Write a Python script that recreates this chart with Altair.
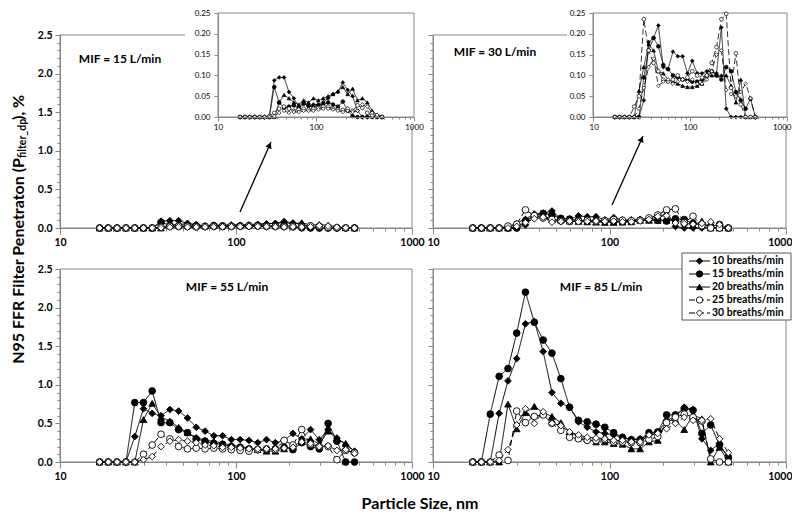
import altair as alt
import pandas as pd

FONT = "Lato"
GRAY = "#868686"
W, H = 784, 504

series = ["10 breaths/min", "15 breaths/min", "20 breaths/min", "25 breaths/min", "30 breaths/min"]
shapes = ["diamond", "circle", "triangle-up", "circle", "diamond"]
fills = ["black", "black", "black", "white", "white"]
dashes = [[1, 0], [1, 0], [1, 0], [6, 3], [6, 3]]

sizes_nm = [16.8, 18.8, 21.1, 23.7, 26.6, 29.8, 33.4, 37.5, 42.1, 47.2, 53.0, 59.4, 66.7, 74.8, 83.9,
            94.1, 105.6, 118.5, 132.9, 149.1, 167.3, 187.7, 210.6, 236.3, 265.1, 297.4, 333.7, 374.4, 420.1, 471.4]

# MIF = 15 L/min
mif15_10 = [0, 0, 0, 0, 0, 0, 0, 0.088, 0.095, 0.095, 0.060, 0.045, 0.025, 0.035, 0.025, 0.030, 0.030, 0.035,
            0.045, 0.055, 0.060, 0.083, 0.065, 0.050, 0.015, 0, 0, 0, 0, 0]
mif15_15 = [0, 0, 0, 0, 0, 0, 0, 0.072, 0.035, 0.022, 0.025, 0.028, 0.020, 0.032, 0.028, 0.025, 0.028, 0.030,
            0.035, 0.030, 0.025, 0.037, 0.015, 0.002, 0, 0, 0, 0, 0, 0]
mif15_20 = [0, 0, 0, 0, 0, 0, 0, 0.0, 0.035, 0.053, 0.045, 0.035, 0.030, 0.040, 0.035, 0.045, 0.040, 0.045,
            0.050, 0.055, 0.062, 0.072, 0.055, 0.068, 0.040, 0.045, 0.035, 0.015, 0.005, 0]
mif15_25 = [0, 0, 0, 0, 0, 0, 0.002, 0.010, 0.020, 0.025, 0.020, 0.015, 0.018, 0.020, 0.018, 0.020, 0.022, 0.025,
            0.025, 0.020, 0.018, 0.017, 0.020, 0.015, 0.028, 0.022, 0.010, 0.004, 0.002, 0]
mif15_30 = [0, 0, 0, 0, 0, 0, 0, 0.002, 0.010, 0.015, 0.010, 0.012, 0.012, 0.015, 0.015, 0.015, 0.018, 0.020,
            0.020, 0.018, 0.015, 0.012, 0.015, 0.012, 0.015, 0.030, 0.025, 0.010, 0.005, 0]

# MIF = 30 L/min
mif30_10 = [0, 0, 0, 0, 0, 0, 0.040, 0.180, 0.190, 0.220, 0.120, 0.115, 0.157, 0.146, 0.146, 0.105, 0.135, 0.105,
            0.105, 0.110, 0.110, 0.105, 0.215, 0.020, 0, 0, 0, 0, 0, 0]
mif30_15 = [0, 0, 0, 0, 0, 0, 0.095, 0.160, 0.190, 0.170, 0.125, 0.115, 0.100, 0.095, 0.090, 0.090, 0.085, 0.085,
            0.090, 0.100, 0.110, 0.100, 0.090, 0.120, 0.110, 0.060, 0.040, 0.020, 0.044, 0]
mif30_20 = [0, 0, 0, 0, 0, 0.063, 0.120, 0.175, 0.160, 0.110, 0.105, 0.090, 0.085, 0.080, 0.075, 0.072, 0.072,
            0.075, 0.080, 0.100, 0.100, 0.100, 0.100, 0.100, 0.075, 0.035, 0.090, 0, 0, 0]
mif30_25 = [0, 0, 0, 0, 0.025, 0.050, 0.235, 0.160, 0.130, 0.110, 0.090, 0.085, 0.090, 0.100, 0.090, 0.095, 0.110,
            0.100, 0.095, 0.100, 0.130, 0.168, 0.235, 0.248, 0.070, 0.153, 0.030, 0, 0, 0]
mif30_30 = [0, 0, 0, 0, 0, 0.020, 0.070, 0.120, 0.140, 0.075, 0.085, 0.090, 0.080, 0.085, 0.090, 0.085, 0.090,
            0.080, 0.080, 0.090, 0.110, 0.150, 0.160, 0.065, 0.055, 0.050, 0.060, 0.080, 0.045, 0]

# MIF = 55 L/min
mif55_10 = [0, 0, 0, 0, 0.33, 0.69, 0.63, 0.60, 0.68, 0.66, 0.57, 0.45, 0.40, 0.34, 0.34, 0.29, 0.29, 0.28, 0.25,
            0.29, 0.25, 0.28, 0.37, 0.30, 0.42, 0.29, 0.42, 0.31, 0.22, 0.14]
mif55_15 = [0, 0, 0, 0, 0.77, 0.77, 0.92, 0.51, 0.51, 0.42, 0.38, 0.30, 0.27, 0.24, 0.23, 0.20, 0.19, 0.17, 0.16,
            0.16, 0.17, 0.19, 0.16, 0.25, 0.20, 0.17, 0.50, 0.27, 0, 0]
mif55_20 = [0, 0, 0, 0, 0, 0.55, 0.76, 0.58, 0.53, 0.45, 0.38, 0.32, 0.28, 0.27, 0.24, 0.22, 0.20, 0.18, 0.16,
            0.14, 0.14, 0.17, 0.20, 0.27, 0.30, 0.23, 0.40, 0.30, 0.24, 0.14]
mif55_25 = [0, 0, 0, 0, 0, 0.10, 0.22, 0.36, 0.30, 0.20, 0.17, 0.18, 0.17, 0.18, 0.17, 0.16, 0.15, 0.14, 0.16,
            0.17, 0.16, 0.28, 0.22, 0.42, 0.23, 0.20, 0.20, 0.03, 0.15, 0.12]
mif55_30 = [0, 0, 0, 0, 0, 0.03, 0.07, 0.20, 0.27, 0.29, 0.27, 0.25, 0.22, 0.21, 0.19, 0.19, 0.18, 0.17, 0.17,
            0.17, 0.17, 0.18, 0.19, 0.26, 0.24, 0.20, 0.21, 0.15, 0.16, 0.11]

# MIF = 85 L/min
mif85_10 = [0, 0, 0, 0.63, 1.05, 1.34, 1.79, 1.82, 1.43, 0.90, 0.76, 0.71, 0.52, 0.45, 0.39, 0.37, 0.35, 0.32,
            0.29, 0.30, 0.35, 0.38, 0.54, 0.59, 0.71, 0.68, 0.30, 0.15, 0.24, 0.04]
mif85_15 = [0, 0, 0.62, 1.11, 1.21, 1.67, 2.20, 1.81, 1.58, 1.41, 1.08, 0.71, 0.54, 0.52, 0.49, 0.45, 0.38, 0.32,
            0.29, 0.29, 0.38, 0.39, 0.61, 0.61, 0.69, 0.67, 0.37, 0.48, 0.22, 0.06]
mif85_20 = [0, 0, 0, 0, 0.75, 0.43, 0.64, 0.72, 0.64, 0.59, 0.51, 0.39, 0.32, 0.30, 0.26, 0.26, 0.24, 0.23, 0.17,
            0.17, 0.26, 0.28, 0.54, 0.54, 0.42, 0.61, 0.56, 0, 0.19, 0]
mif85_25 = [0, 0, 0, 0.09, 0.02, 0.66, 0.51, 0.59, 0.61, 0.50, 0.41, 0.32, 0.30, 0.28, 0.28, 0.29, 0.26, 0.26,
            0.25, 0.25, 0.29, 0.33, 0.51, 0.58, 0.62, 0.58, 0.53, 0.04, 0, 0]
mif85_30 = [0, 0, 0, 0.02, 0.16, 0.48, 0.69, 0.50, 0.65, 0.50, 0.47, 0.39, 0.35, 0.32, 0.31, 0.30, 0.28, 0.28,
            0.26, 0.26, 0.35, 0.37, 0.43, 0.50, 0.58, 0.54, 0.54, 0.56, 0.30, 0.12]

x_ticks = [10, 20, 30, 40, 50, 60, 70, 80, 90, 100, 200, 300, 400, 500, 600, 700, 800, 900, 1000]
y_ticks_main = [0.0, 0.1, 0.2, 0.3, 0.4, 0.5, 0.6, 0.7, 0.8, 0.9, 1.0, 1.1, 1.2, 1.3, 1.4, 1.5, 1.6, 1.7, 1.8,
                1.9, 2.0, 2.1, 2.2, 2.3, 2.4, 2.5]
y_ticks_inset = [0.0, 0.05, 0.10, 0.15, 0.20, 0.25]


def make_df(cols):
    rows = []
    for s, vals in zip(series, cols):
        assert len(vals) == len(sizes_nm)
        for d, v in zip(sizes_nm, vals):
            rows.append({"d": d, "p": v, "s": s})
    return pd.DataFrame(rows)


df15 = make_df([mif15_10, mif15_15, mif15_20, mif15_25, mif15_30])
df30 = make_df([mif30_10, mif30_15, mif30_20, mif30_25, mif30_30])
df55 = make_df([mif55_10, mif55_15, mif55_20, mif55_25, mif55_30])
df85 = make_df([mif85_10, mif85_15, mif85_20, mif85_25, mif85_30])

shape_sc = alt.Scale(domain=series, range=shapes)
fill_sc = alt.Scale(domain=series, range=fills)
dash_sc = alt.Scale(domain=series, range=dashes)

MAJX = "datum.value == 10 || datum.value == 100 || datum.value == 1000"
MAJY = "abs(datum.value * 2 - round(datum.value * 2)) < 0.001"


def x_axis(pos, major, minor, fs, bold, pad, z, flush=None):
    kw = {}
    if flush is not None:
        kw = dict(labelFlush=True, labelFlushOffset=flush)
    else:
        kw = dict(labelFlush=False)
    return alt.Axis(orient="bottom", offset=pos - H, values=x_ticks,
                    labelExpr="(" + MAJX + ") ? format(datum.value, 'd') : ''",
                    tickSize={"condition": {"test": MAJX, "value": major}, "value": minor},
                    domainColor=GRAY, tickColor=GRAY, labelColor="black", labelFont=FONT,
                    labelFontSize=fs, labelFontWeight="bold" if bold else "normal",
                    labelPadding=pad, labelOverlap=False, grid=False,
                    title=None, zindex=z, **kw)


def y_axis_main(pos, show_labels=True):
    return alt.Axis(orient="left", offset=-pos, values=y_ticks_main,
                    labelExpr="(" + MAJY + ") ? format(datum.value, '.1f') : ''",
                    labels=show_labels,
                    tickSize={"condition": {"test": MAJY, "value": 5}, "value": 3},
                    domainColor=GRAY, tickColor=GRAY, labelColor="black", labelFont=FONT,
                    labelFontSize=10.5, labelFontWeight="bold", labelPadding=3,
                    labelFlush=False, labelOverlap=False, grid=False, title=None, zindex=0)


def y_axis_inset(pos):
    return alt.Axis(orient="left", offset=-pos, values=y_ticks_inset, format=".2f",
                    tickSize=4, domainColor=GRAY, tickColor=GRAY, labelColor="black",
                    labelFont=FONT, labelFontSize=8, labelPadding=4, labelFlush=False,
                    labelOverlap=False, grid=False, title=None, zindex=1)


def panel(df, xr, yr, ymax, xaxis, yaxis, msize, lw, sw):
    def xs():
        return alt.Scale(type="log", domain=[10, 1000], range=xr, nice=False)

    def ys():
        return alt.Scale(domain=[0, ymax], range=yr, nice=False, zero=True)

    fr = pd.DataFrame({"x0": [10], "x1": [1000], "y0": [0], "y1": [ymax]})
    frame = alt.Chart(fr).mark_rect(fill="white", fillOpacity=0, stroke=GRAY, strokeWidth=1).encode(
        x=alt.X("x0:Q", scale=xs(), axis=xaxis), x2="x1:Q",
        y=alt.Y("y0:Q", scale=ys(), axis=yaxis), y2="y1:Q")
    lines = alt.Chart(df).mark_line(color="black", strokeWidth=lw).encode(
        x=alt.X("d:Q", scale=xs(), axis=None),
        y=alt.Y("p:Q", scale=ys(), axis=None),
        strokeDash=alt.StrokeDash("s:N", scale=dash_sc, legend=None),
        detail="s:N")
    pts = alt.Chart(df).mark_point(filled=True, stroke="black", strokeWidth=sw, size=msize, opacity=1).encode(
        x=alt.X("d:Q", scale=xs(), axis=None),
        y=alt.Y("p:Q", scale=ys(), axis=None),
        shape=alt.Shape("s:N", scale=shape_sc, legend=None),
        fill=alt.Fill("s:N", scale=fill_sc, legend=None))
    return [frame, lines, pts]


# main panels (canvas pixel ranges)
XL, XR = [52, 404], [425, 778]
YT, YB = [220, 27], [454, 261]

p15 = panel(df15, XL, YT, 2.5, x_axis(220, 6, 3, 10.5, True, 3, 0), y_axis_main(52), 45, 1, 0.9)
p30 = panel(df30, XR, YT, 2.5, x_axis(220, 6, 3, 10.5, True, 3, 0, flush=6),
            y_axis_main(425, False), 45, 1, 0.9)
p55 = panel(df55, XL, YB, 2.5, x_axis(454, 6, 3, 10.5, True, 3, 0), y_axis_main(52), 45, 1, 0.9)
p85 = panel(df85, XR, YB, 2.5, x_axis(454, 6, 3, 10.5, True, 3, 0, flush=6),
            y_axis_main(425, False), 45, 1, 0.9)

one = pd.DataFrame({"a": [0]})


def box(x1, x2, y1, y2, stroke=None):
    kw = dict(fill="white")
    if stroke:
        kw.update(stroke=stroke, strokeWidth=1)
    return alt.Chart(one).mark_rect(**kw).encode(
        x=alt.value(x1), x2=alt.value(x2), y=alt.value(y1), y2=alt.value(y2))


bg15 = box(177, 410, 0, 118)
bg30 = box(559, 784, 0, 118)

i15 = panel(df15, [210, 406], [109, 5], 0.25, x_axis(109, 4, 2, 8, False, 2, 1), y_axis_inset(210), 14, 0.8, 0.7)
i30 = panel(df30, [585, 779], [109, 5], 0.25, x_axis(109, 4, 2, 8, False, 2, 1, flush=4),
            y_axis_inset(585), 14, 0.8, 0.7)


def arrow(x1, y1, x2, y2, ang):
    line = alt.Chart(one).mark_rule(color="black", strokeWidth=1.3).encode(
        x=alt.value(x1), y=alt.value(y1), x2=alt.value(x2), y2=alt.value(y2))
    hx = x2 - (x2 - x1) * 0.045
    hy = y2 - (y2 - y1) * 0.045
    head = alt.Chart(one).mark_point(shape="triangle-up", filled=True, color="black", size=45,
                                     angle=ang, opacity=1).encode(x=alt.value(hx), y=alt.value(hy))
    return [line, head]


a15 = arrow(232, 204, 263, 134, 24)
a30 = arrow(604, 197, 635, 128, 24)


def txt(t, x, y, size, weight="bold", align="center", angle=0):
    return alt.Chart(pd.DataFrame({"t": [t]})).mark_text(
        font=FONT, fontSize=size, fontWeight=weight, align=align, baseline="middle",
        angle=angle, color="black").encode(x=alt.value(x), y=alt.value(y), text="t:N")


labels = [
    txt("MIF = 15 L/min", 112, 51, 12),
    txt("MIF = 30 L/min", 487, 44, 12),
    txt("MIF = 55 L/min", 219, 279, 12),
    txt("MIF = 85 L/min", 593, 279, 12),
    txt("Particle Size, nm", 412, 496, 16),
    txt("N95 FFR Filter Penetraton (P", 11, 150, 16, align="right", angle=270),
    txt("filter_dp", 15, 150, 10.5, align="left", angle=270),
    txt("), %", 11, 112, 16, align="left", angle=270),
]

# legend
leg_df = pd.DataFrame({"s": series})
ly = alt.Y("s:N", scale=alt.Scale(type="point", domain=series, range=[253, 305], padding=0), axis=None)
leg_box = box(674, 783, 245, 312, stroke="#555555")
leg_rule = alt.Chart(leg_df).mark_rule(color="black", strokeWidth=1).encode(
    x=alt.value(681), x2=alt.value(702), y=ly,
    strokeDash=alt.StrokeDash("s:N", scale=dash_sc, legend=None))
leg_pts = alt.Chart(leg_df).mark_point(filled=True, stroke="black", strokeWidth=0.9, size=40, opacity=1).encode(
    x=alt.value(691.5), y=ly,
    shape=alt.Shape("s:N", scale=shape_sc, legend=None),
    fill=alt.Fill("s:N", scale=fill_sc, legend=None))
leg_txt = alt.Chart(leg_df).mark_text(font=FONT, fontSize=10.5, fontWeight="bold", align="left",
                                      baseline="middle", color="black").encode(
    x=alt.value(704), y=ly, text="s:N")

layers = (p15 + p30 + p55 + p85 + [bg15, bg30] + i15 + i30 + a15 + a30 + labels
          + [leg_box, leg_rule, leg_pts, leg_txt])

chart = alt.layer(*layers).resolve_scale(x="independent", y="independent").properties(
    width=W, height=H, autosize=alt.AutoSizeParams(type="none"), padding=0,
    background="white"
).configure_view(stroke=None)

chart.save("out.html", embed_options={"renderer": "svg", "actions": False})
